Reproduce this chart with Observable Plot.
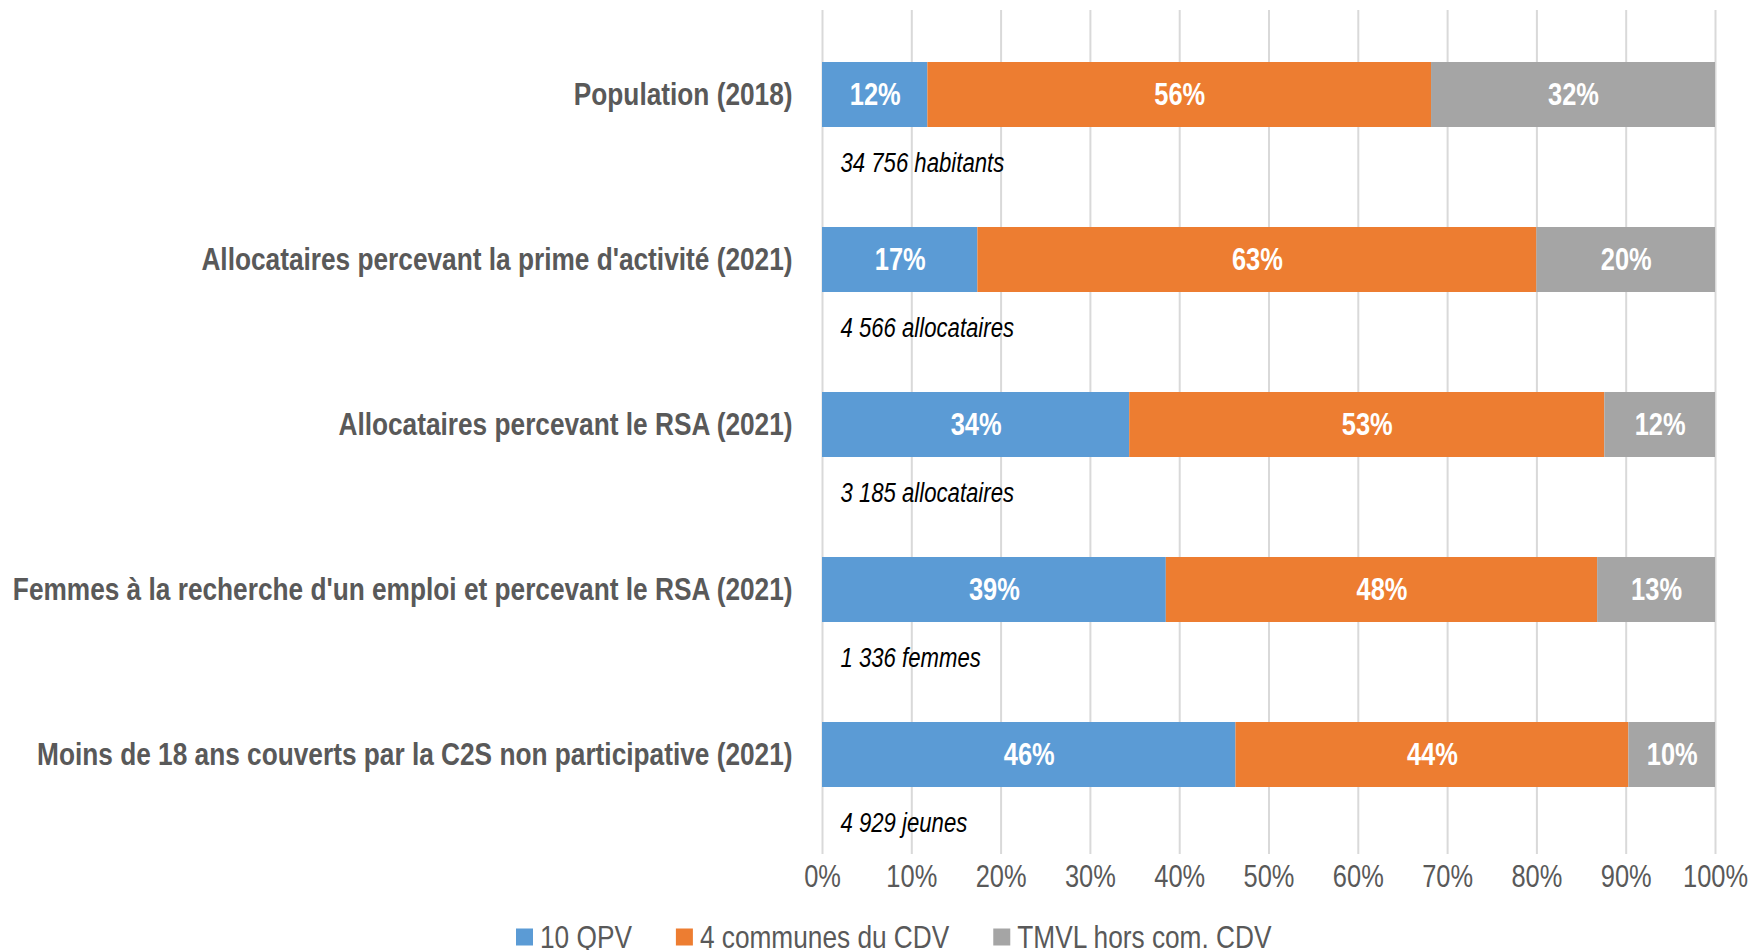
<!DOCTYPE html>
<html>
<head>
<meta charset="utf-8">
<script src="https://cdn.jsdelivr.net/npm/d3@7"></script>
<script src="https://cdn.jsdelivr.net/npm/@observablehq/plot@0.6"></script>
<style>
  html, body { margin: 0; padding: 0; background: #fff; }
  body { width: 1750px; height: 950px; overflow: hidden; font-family: "Liberation Sans", Arial, sans-serif; }
  svg { display: block; }
</style>
</head>
<body>
<div id="chart"></div>
<div id="legend"></div>
<script>
const categories = [
  "Population (2018)",
  "Allocataires percevant la prime d'activité (2021)",
  "Allocataires percevant le RSA (2021)",
  "Femmes à la recherche d'un emploi et percevant le RSA (2021)",
  "Moins de 18 ans couverts par la C2S non participative (2021)"
];
const series = ["10 QPV", "4 communes du CDV", "TMVL hors com. CDV"];
const colors = ["#5B9BD5", "#ED7D31", "#A5A5A5"];
const qpv      = [11.8, 17.4, 34.4, 38.5, 46.3];
const communes = [56.4, 62.6, 53.2, 48.3, 44.0];
const tmvl     = [31.8, 20.0, 12.4, 13.2, 9.7];
const counts = ["34 756 habitants", "4 566 allocataires", "3 185 allocataires", "1 336 femmes", "4 929 jeunes"];
const xTicks = [0, 10, 20, 30, 40, 50, 60, 70, 80, 90, 100];

const seriesValues = [qpv, communes, tmvl];
const data = [];
categories.forEach((c, i) => {
  series.forEach((s, j) => {
    data.push({category: c, series: s, value: seriesValues[j][i]});
  });
});
const notes = categories.map((c, i) => ({category: c, text: counts[i]}));

const font = '"Liberation Sans", Arial, sans-serif';
const NARROW = 0.82; // Arial Narrow ≈ Arial horizontally condensed

function narrow(svgNode) {
  svgNode.querySelectorAll("text").forEach(t => {
    const l = t.getComputedTextLength();
    if (l > 0) {
      t.setAttribute("textLength", l * NARROW);
      t.setAttribute("lengthAdjust", "spacingAndGlyphs");
    }
  });
}

const chart = Plot.plot({
  width: 1750,
  height: 905,
  marginLeft: 822,
  marginRight: 35,
  marginTop: 10,
  marginBottom: 51,
  style: {fontFamily: font, background: "#fff", overflow: "visible"},
  x: {domain: [0, 100], ticks: xTicks, tickFormat: d => d + "%", label: null},
  y: {domain: categories, paddingInner: 0.607, paddingOuter: 0.302, insetBottom: 16, label: null},
  color: {domain: series, range: colors},
  marks: [
    Plot.gridX(xTicks, {stroke: "#d9d9d9", strokeOpacity: 1, strokeWidth: 2}),
    Plot.barX(data, Plot.stackX({x: "value", y: "category", fill: "series", order: series, inset: 0})),
    Plot.text(data, Plot.stackX({x: "value", y: "category", z: "series", order: series,
      text: d => Math.round(d.value) + "%", fill: "white", fontWeight: "bold", fontSize: 31})),
    Plot.text(notes, {x: 0, y: "category", text: "text", dx: 18, dy: 68, textAnchor: "start",
      fontStyle: "italic", fontSize: 27, fill: "#000"}),
    Plot.axisX({ticks: xTicks, tickFormat: d => d + "%", tickSize: 0, tickPadding: 10, fontSize: 31, color: "#595959", label: null}),
    Plot.axisY({tickSize: 0, tickPadding: 30, fontSize: 32, fontWeight: "bold", color: "#595959", label: null})
  ]
});
document.getElementById("chart").appendChild(chart);
narrow(chart);

// Legend below the chart
const lg = d3.select("#legend").append("svg")
  .attr("width", 1750).attr("height", 45)
  .style("font-family", font);
let x = 516;
series.forEach((s, i) => {
  lg.append("rect").attr("x", x).attr("y", 32 - 8.5).attr("width", 17).attr("height", 17).attr("fill", colors[i]);
  const t = lg.append("text").attr("x", x + 24).attr("y", 32).attr("dy", "0.35em")
    .attr("font-size", 32).attr("fill", "#595959").text(s);
  const l = t.node().getComputedTextLength() * NARROW;
  t.attr("textLength", l).attr("lengthAdjust", "spacingAndGlyphs");
  x += 24 + l + 44;
});
</script>
</body>
</html>
